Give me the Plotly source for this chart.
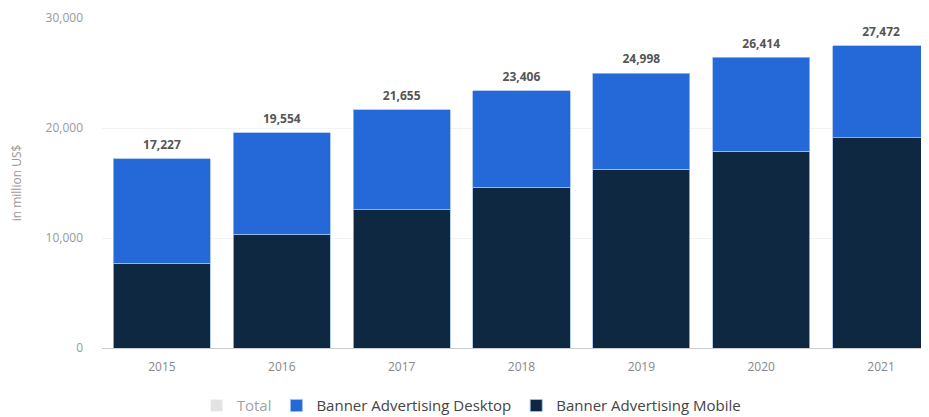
import plotly.graph_objects as go

years = ["2015", "2016", "2017", "2018", "2019", "2020", "2021"]
totals = [17227, 19554, 21655, 23406, 24998, 26414, 27472]
mobile = [7700, 10350, 12550, 14600, 16250, 17900, 19100]
desktop = [t - m for t, m in zip(totals, mobile)]
total_labels = ["17,227", "19,554", "21,655", "23,406", "24,998", "26,414", "27,472"]
y_ticks = [0, 10000, 20000, 30000]
y_tick_labels = ["0", "10,000", "20,000", "30,000"]

fig = go.Figure()
fig.add_trace(go.Bar(x=years, y=totals, name="Total", visible="legendonly",
                     marker=dict(color="#c8c8c8"), legendrank=1))
fig.add_trace(go.Bar(x=years, y=mobile, name="Banner Advertising Mobile",
                     marker=dict(color="#0e2841", line=dict(color="#9fc0ee", width=0.8)),
                     legendrank=3))
fig.add_trace(go.Bar(x=years, y=desktop, name="Banner Advertising Desktop",
                     marker=dict(color="#2568d8", line=dict(color="#9fc0ee", width=0.8)),
                     legendrank=2))
fig.add_trace(go.Scatter(x=years, y=totals, mode="markers+text", text=total_labels,
                         textposition="top center", showlegend=False, cliponaxis=False,
                         hoverinfo="skip",
                         marker=dict(size=9, color="rgba(0,0,0,0)"),
                         textfont=dict(family="Open Sans", size=12, color="#555555",
                                       weight="bold")))

fig.update_layout(
    barmode="stack",
    bargap=0.19,
    width=921, height=409,
    margin=dict(l=94, r=0, t=10, b=69, autoexpand=False),
    paper_bgcolor="white", plot_bgcolor="white",
    font=dict(family="Open Sans", size=12, color="#888888"),
    legend=dict(orientation="h", x=0.447, xanchor="center", y=-0.125, yanchor="top",
                traceorder="normal", font=dict(size=15, color="#444444"),
                itemclick=False, itemdoubleclick=False),
    xaxis=dict(type="category", range=[-0.5, 6.4], showline=True, linecolor="#cccccc",
               linewidth=1, tickfont=dict(size=12, color="#888888"), ticks="",
               ticklabelstandoff=8, fixedrange=True),
    yaxis=dict(range=[0, 30000], tickvals=y_ticks, ticktext=y_tick_labels,
               showgrid=True, gridcolor="#f3f3f3", zeroline=False,
               tickfont=dict(size=12, color="#999999"), ticks="",
               ticklabelstandoff=18,
               title=dict(text="in million US$", font=dict(size=12, color="#999999"),
                          standoff=23)),
)

fig.write_html("out.html")
